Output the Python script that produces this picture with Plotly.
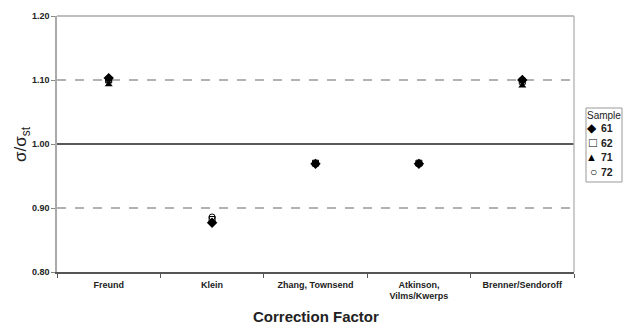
import plotly.graph_objects as go

categories = ["Freund", "Klein", "Zhang, Townsend", "Atkinson,<br>Vilms/Kwerps", "Brenner/Sendoroff"]
s61 = [1.103, 0.877, 0.969, 0.969, 1.100]
s62 = [1.100, 0.882, 0.970, 0.970, 1.098]
s71 = [1.093, 0.878, 0.969, 0.969, 1.091]
s72 = [1.100, 0.886, 0.970, 0.970, 1.100]
y_ticks = [0.80, 0.90, 1.00, 1.10, 1.20]
legend_names = ["61", "62", "71", "72"]
legend_glyphs = ["◆", "□", "▲", "○"]

font = "Liberation Sans, Arial, sans-serif"
L, R, T, B = 57, 49, 16, 52
W, H = 623, 324
pw, ph = W - L - R, H - T - B

def px_x(x):
    return (x - L) / pw

def px_y(y):
    return (H - B - y) / ph

fig = go.Figure()
series = [
    (legend_names[0], s61, dict(symbol="diamond", color="black", size=8)),
    (legend_names[1], s62, dict(symbol="square-open", color="black", size=6, line=dict(width=1))),
    (legend_names[2], s71, dict(symbol="triangle-up", color="black", size=7)),
    (legend_names[3], s72, dict(symbol="circle-open", color="black", size=6, line=dict(width=1))),
]
for name, vals, m in series:
    fig.add_trace(go.Scatter(x=categories, y=vals, mode="markers", name=name, marker=m,
                             showlegend=False))

for yv in [0.9, 1.1]:
    fig.add_shape(type="line", xref="paper", yref="y", x0=0, x1=1, y0=yv, y1=yv,
                  line=dict(color="#999999", width=1.5, dash="dash"), layer="below")
fig.add_shape(type="line", xref="paper", yref="y", x0=0, x1=1, y0=1.0, y1=1.0,
              line=dict(color="#222222", width=1.5), layer="below")
fig.add_shape(type="line", xref="paper", yref="paper", x0=0, x1=1, y0=1, y1=1,
              line=dict(color="#aaaaaa", width=1.5), layer="below")
fig.add_shape(type="line", xref="paper", yref="paper", x0=1, x1=1, y0=0, y1=1,
              line=dict(color="#bbbbbb", width=1.5), layer="below")

# manual legend
fig.add_shape(type="rect", xref="paper", yref="paper",
              x0=px_x(586), x1=px_x(622), y0=px_y(182), y1=px_y(108),
              line=dict(color="#999999", width=1), fillcolor="white")
fig.add_annotation(xref="paper", yref="paper", x=px_x(604), y=px_y(115), text="Sample",
                   showarrow=False, xanchor="center", yanchor="middle",
                   font=dict(size=10, color="#222222"))
glyph_sizes = [12, 13, 11, 12]
for i, (g, n) in enumerate(zip(legend_glyphs, legend_names)):
    yy = px_y(128 + i * 14.5)
    fig.add_annotation(xref="paper", yref="paper", x=px_x(599), y=yy, text=g,
                       showarrow=False, xanchor="right", yanchor="middle",
                       font=dict(size=glyph_sizes[i], color="black"))
    fig.add_annotation(xref="paper", yref="paper", x=px_x(599), y=yy, text=n,
                       showarrow=False, xanchor="left", yanchor="middle",
                       font=dict(size=10.5, color="#222222", weight="bold"))

# y title
fig.add_annotation(xref="paper", yref="paper", x=px_x(22), y=0.5, text="σ/σ<sub>st</sub>",
                   showarrow=False, textangle=-90, xanchor="center", yanchor="middle",
                   font=dict(size=17, color="#222222"))
# x title
fig.add_annotation(xref="paper", yref="paper", x=0.5, y=px_y(316), text="<b>Correction Factor</b>",
                   showarrow=False, xanchor="center", yanchor="middle",
                   font=dict(size=15, color="#222222"))

fig.update_layout(
    width=W, height=H,
    margin=dict(l=L, r=R, t=T, b=B, autoexpand=False),
    paper_bgcolor="white", plot_bgcolor="white",
    font=dict(family=font, color="#222222"),
    showlegend=False,
    xaxis=dict(type="category", tickson="boundaries", ticks="outside", ticklen=4,
               tickcolor="#555555", showline=True, linecolor="#555555", linewidth=1.5,
               showgrid=False, automargin=False, ticklabelstandoff=3,
               tickfont=dict(size=9, family=font, weight="bold"),
               range=[-0.5, 4.5]),
    yaxis=dict(range=[0.8, 1.2], tickvals=y_ticks, ticktext=[f"{v:.2f}" for v in y_ticks],
               ticks="outside", ticklen=4, tickcolor="#888888", automargin=False,
               showline=True, linecolor="#aaaaaa", linewidth=1.5, showgrid=False, zeroline=False,
               tickfont=dict(size=9, weight="bold")),
)
fig.write_html("out.html", config={"displayModeBar": False},
               post_script="document.body.style.margin='0px';document.body.style.overflow='hidden';")
